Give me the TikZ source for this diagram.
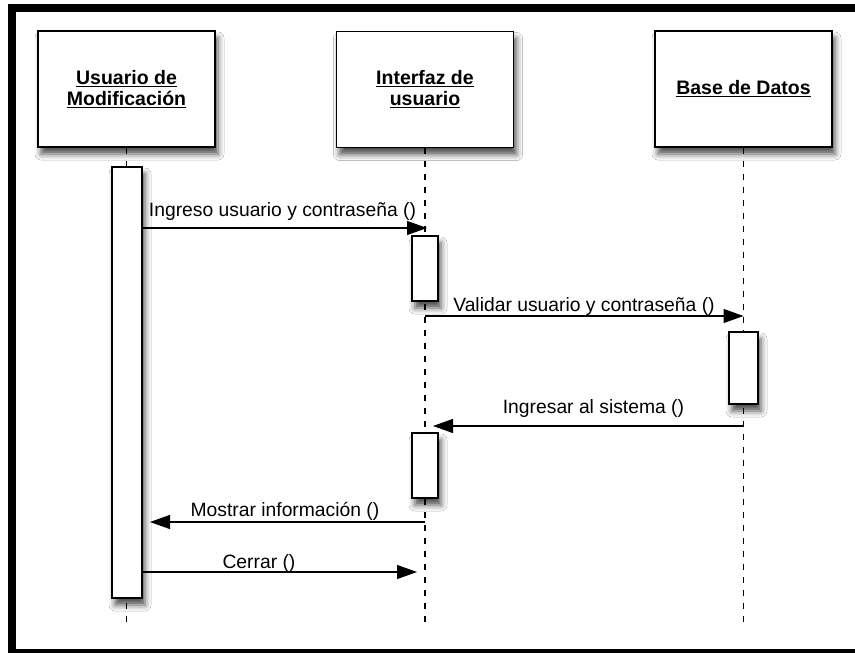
\documentclass[tikz,border=0pt]{standalone}
\usepackage{fontspec}
\setmainfont{Liberation Sans}
\usetikzlibrary{arrows.meta,shadows.blur}
\begin{document}
\begin{tikzpicture}[x=1pt,y=-1pt,
  softshadow/.style={blur shadow={shadow xshift=3pt,shadow yshift=-7pt,shadow blur radius=6pt,shadow opacity=70}},
  actor/.style={draw=black,line width=1.5pt,fill=white,minimum width=177pt,minimum height=116pt,
    inner sep=0pt,align=center,font=\fontsize{19.5}{21}\selectfont\bfseries,softshadow},
  activation/.style={draw=black,line width=1.5pt,fill=white,inner sep=0pt,softshadow},
  lifeline/.style={line width=1.3pt,dash pattern=on 6pt off 7pt},
  msg/.style={line width=1.2pt,-{Triangle[length=20pt,width=14pt]}},
  msglabel/.style={anchor=base,inner sep=0pt,font=\fontsize{19.3}{21}\selectfont}
]
\useasboundingbox (0,0) rectangle (855,653);
\fill[white] (0,0) rectangle (855,653);

% outer frame
\fill[black] (8,4) rectangle (855,12);
\fill[black] (8,4) rectangle (16,653);
\fill[black] (8,649) rectangle (855,653);

% participants
\node[actor] (user) at (126.5,89) {\underline{Usuario de}\\\underline{Modificación}};
\node[actor] (ui)   at (425,89.5) {\underline{Interfaz de}\\\underline{usuario}};
\node[actor] (db)   at (743.5,89) {\underline{Base de Datos}};

% lifelines
\coordinate (userend) at (126.5,623);
\coordinate (uiend)   at (425,623);
\coordinate (dbend)   at (743.5,623);
\draw[lifeline] (user.south) -- (userend);
\draw[lifeline] (ui.south) -- (uiend);
\draw[lifeline] (db.south) -- (dbend);

% activation bars
\node[activation,minimum width=30pt,minimum height=431pt] (bar1) at (127,382.5) {};
\node[activation,minimum width=26pt,minimum height=65pt]  (bar2) at (425,268.5) {};
\node[activation,minimum width=29pt,minimum height=72pt]  (bar3) at (743.5,368) {};
\node[activation,minimum width=26pt,minimum height=65pt]  (bar4) at (425,465.5) {};

% messages
\coordinate (t1) at (427,228);
\coordinate (t2) at (743.5,316);
\coordinate (t3) at (433,426);
\coordinate (t4) at (150,522);
\coordinate (t5) at (417,572);

\draw[msg] (bar1.east |- t1) -- (t1);
\draw[msg] (ui.south |- t2) -- (t2);
\draw[msg] (db.south |- t3) -- (t3);
\draw[msg] (ui.south |- t4) -- (t4);
\draw[msg] (bar1.east |- t5) -- (t5);

\node[msglabel] (l1) at (282.5,216) {Ingreso usuario y contraseña ()};
\node[msglabel] (l2) at (584,311)   {Validar usuario y contraseña ()};
\node[msglabel] (l3) at (593.5,413) {Ingresar al sistema ()};
\node[msglabel] (l4) at (285,516)   {Mostrar información ()};
\node[msglabel] (l5) at (259,568)   {Cerrar ()};
\end{tikzpicture}
\end{document}
